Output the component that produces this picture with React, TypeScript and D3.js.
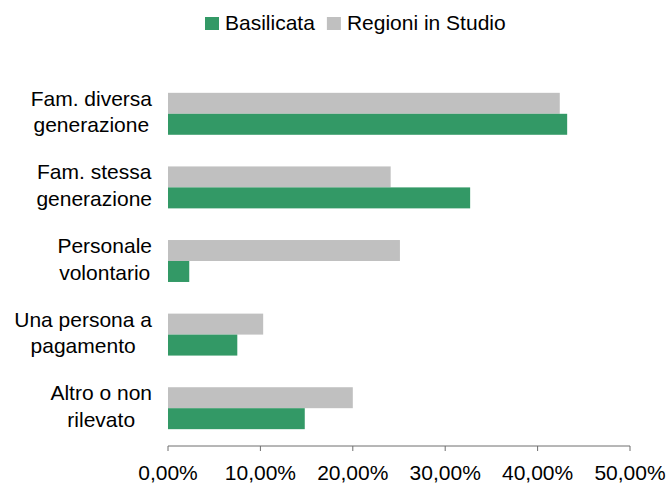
import React, { useEffect, useRef } from "react";
import * as d3 from "d3";

const categories: string[][] = [
  ["Fam. diversa", "generazione"],
  ["Fam. stessa", "generazione"],
  ["Personale", "volontario"],
  ["Una persona a", "pagamento"],
  ["Altro o non", "rilevato"],
];
const basilicata = [43.2, 32.7, 2.3, 7.5, 14.8];
const regioni = [42.4, 24.1, 25.1, 10.3, 20.0];
const ticks = [0, 10, 20, 30, 40, 50];
const seriesNames = ["Basilicata", "Regioni in Studio"];
const colors = ["#339966", "#C0C0C0"];

const W = 669;
const H = 485;
const FONT = "Liberation Sans, Arial, sans-serif";
const FS = 21;

export default function App() {
  const ref = useRef<SVGSVGElement>(null);
  useEffect(() => {
    const svg = d3.select(ref.current);
    svg.selectAll("*").remove();
    const x = d3.scaleLinear().domain([0, 50]).range([168, 630]);
    const y = d3
      .scaleBand<number>()
      .domain(d3.range(categories.length))
      .range([77, 445])
      .paddingInner(0.43)
      .paddingOuter(0.215);
    const bh = y.bandwidth() / 2;

    const g = svg.append("g");
    g.selectAll("rect.reg")
      .data(regioni)
      .join("rect")
      .attr("class", "reg")
      .attr("x", x(0))
      .attr("y", (_, i) => y(i)!)
      .attr("width", (d) => x(d) - x(0))
      .attr("height", bh)
      .attr("fill", colors[1]);
    g.selectAll("rect.bas")
      .data(basilicata)
      .join("rect")
      .attr("class", "bas")
      .attr("x", x(0))
      .attr("y", (_, i) => y(i)! + bh)
      .attr("width", (d) => x(d) - x(0))
      .attr("height", bh)
      .attr("fill", colors[0]);

    // axis
    const axisY = 446;
    const ax = svg.append("g").attr("transform", `translate(0,${axisY})`);
    ax.append("line")
      .attr("x1", x(0))
      .attr("x2", x(50))
      .attr("stroke", "#6e6e6e")
      .attr("stroke-width", 1);
    ticks.forEach((t) => {
      ax.append("line")
        .attr("x1", x(t))
        .attr("x2", x(t))
        .attr("y1", 0)
        .attr("y2", 5)
        .attr("stroke", "#6e6e6e");
      ax.append("text")
        .attr("x", x(t))
        .attr("y", 34)
        .attr("text-anchor", "middle")
        .attr("font-family", FONT)
        .attr("font-size", FS)
        .attr("fill", "#000")
        .text(t.toFixed(2).replace(".", ",") + "%");
    });

    // category labels: lines centered on each other, block right-aligned
    const rightEdge = 152;
    categories.forEach((lines, i) => {
      const cy = y(i)! + y.bandwidth() / 2;
      const texts = lines.map((ln, k) =>
        svg
          .append("text")
          .attr("font-family", FONT)
          .attr("font-size", FS)
          .attr("fill", "#000")
          .attr("text-anchor", "middle")
          .attr("y", cy + (k === 0 ? -8 : 18.5))
          .text(ln)
      );
      const widths = texts.map((t) => (t.node() as SVGTextElement).getComputedTextLength());
      const maxW = Math.max(...widths);
      const cx = rightEdge - maxW / 2;
      texts.forEach((t) => t.attr("x", cx));
    });

    // legend
    const leg = svg.append("g");
    let lx = 205;
    seriesNames.forEach((n, i) => {
      leg.append("rect")
        .attr("x", lx)
        .attr("y", 17)
        .attr("width", 14)
        .attr("height", 13)
        .attr("fill", colors[i]);
      const t = leg
        .append("text")
        .attr("x", lx + 20)
        .attr("y", 30)
        .attr("font-family", FONT)
        .attr("font-size", FS)
        .attr("fill", "#000")
        .text(n);
      lx += 20 + (t.node() as SVGTextElement).getComputedTextLength() + 12;
    });
  }, []);
  return (
    <svg
      ref={ref}
      width={W}
      height={H}
      style={{ position: "absolute", left: 0, top: 0, background: "#fff" }}
    />
  );
}
